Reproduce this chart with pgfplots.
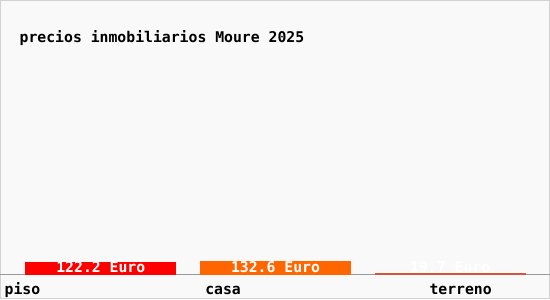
\documentclass[border=0pt]{standalone}
\usepackage{pgfplots}
\pgfplotsset{compat=1.18}
\usepackage{fontspec}
\setmainfont{DejaVu Sans Mono}
\definecolor{bgc}{HTML}{F9F9F9}
\definecolor{frm}{HTML}{D2D2D2}
\definecolor{cpiso}{HTML}{FF0000}
\definecolor{ccasa}{HTML}{FF6600}
\definecolor{cterr}{HTML}{D4553A}
\newcommand{\cf}{\fontsize{14.8bp}{17bp}\selectfont\bfseries}
\begin{document}
\begin{tikzpicture}
\fill[bgc] (0,0) rectangle (550bp,300bp);
\draw[frm, line width=1bp] (0.5bp,0.5bp) rectangle (549.5bp,299.5bp);
\node[anchor=base west, inner sep=0pt, font=\cf] at (19bp,257.7bp) {precios inmobiliarios Moure 2025};
\begin{axis}[
  at={(0,25bp)}, anchor=south west,
  scale only axis, width=550bp, height=275bp,
  xmin=-0.5743, xmax=2.5686, ymin=0, ymax=2750,
  axis x line=bottom, hide y axis,
  axis line style={draw=black!40, -, line width=1bp},
  xtick={-0.4486,0.7,2.06},
  xticklabels={piso,casa,terreno},
  xtick style={draw=none},
  xticklabel style={anchor=base, yshift=-17.5bp, inner sep=0pt, font=\cf},
  clip=false,
]
\addplot[ybar, bar width=0.863, bar shift=0, fill=cpiso, draw=none] coordinates {(0,122.2)};
\addplot[ybar, bar width=0.863, bar shift=0, fill=ccasa, draw=none] coordinates {(1,132.6)};
\addplot[ybar, bar width=0.863, bar shift=0, fill=cterr, draw=none] coordinates {(2,19.7)};
\addplot[only marks, mark=none, point meta=explicit symbolic,
  nodes near coords,
  every node near coord/.append style={anchor=base, text=white, inner sep=0pt, font=\cf}]
  coordinates {(0,17)[122.2 Euro] (1,17)[132.6 Euro] (2,17)[19.7 Euro]};
\end{axis}
\end{tikzpicture}
\end{document}
